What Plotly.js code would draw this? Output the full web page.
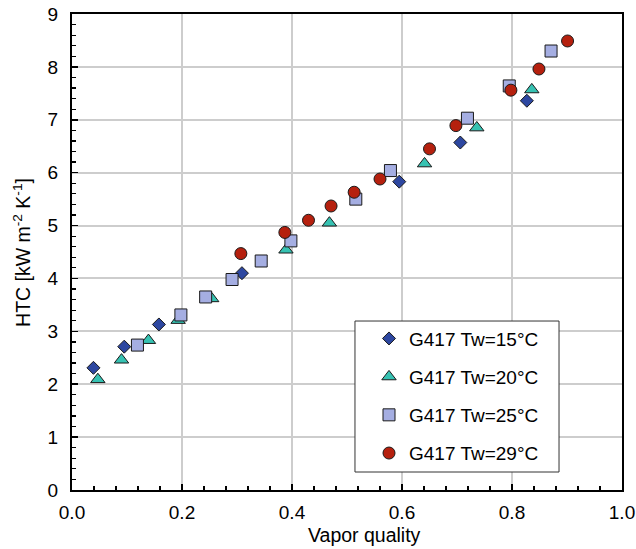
<!DOCTYPE html>
<html>
<head>
<meta charset="utf-8">
<script src="https://cdn.plot.ly/plotly-3.0.1.min.js"></script>
<style>html,body{margin:0;padding:0;background:#fff;}</style>
</head>
<body>
<div id="chart" style="width:636px;height:549px;"></div>
<script>
// Data
var seriesNames = ['G417 Tw=15°C', 'G417 Tw=20°C', 'G417 Tw=25°C', 'G417 Tw=29°C'];

var x15 = [0.039, 0.095, 0.158, 0.309, 0.595, 0.706, 0.827];
var y15 = [2.31, 2.71, 3.13, 4.10, 5.83, 6.57, 7.36];

var x20 = [0.047, 0.090, 0.139, 0.193, 0.254, 0.389, 0.468, 0.641, 0.736, 0.836];
var y20 = [2.09, 2.46, 2.83, 3.21, 3.62, 4.54, 5.05, 6.17, 6.85, 7.57];

var x25 = [0.119, 0.198, 0.243, 0.291, 0.344, 0.398, 0.516, 0.579, 0.719, 0.795, 0.871];
var y25 = [2.74, 3.31, 3.65, 3.98, 4.33, 4.71, 5.50, 6.04, 7.03, 7.64, 8.30];

var x29 = [0.307, 0.387, 0.430, 0.471, 0.513, 0.560, 0.650, 0.698, 0.798, 0.849, 0.901];
var y29 = [4.47, 4.87, 5.10, 5.37, 5.63, 5.88, 6.45, 6.89, 7.56, 7.96, 8.49];

var xTickVals = [0, 0.2, 0.4, 0.6, 0.8, 1.0];
var xTickText = ['0.0', '0.2', '0.4', '0.6', '0.8', '1.0'];
var yTickVals = [0, 1, 2, 3, 4, 5, 6, 7, 8, 9];

var FONT = 'Liberation Sans, Arial, sans-serif';

function mk(x, y, name, symbol, color, size, grp) {
  return {
    type: 'scatter', mode: 'markers', x: x, y: y, name: name,
    legendgroup: grp,
    marker: {symbol: symbol, color: color, size: size, line: {color: '#1a1a1a', width: 1}},
    hoverinfo: 'x+y'
  };
}

var traces = [
  mk(x15, y15, seriesNames[0], 'diamond', '#2d47a0', 10, 'a'),
  mk(x20, y20, seriesNames[1], 'triangle-up', '#36c2b2', 12.5, 'b'),
  mk(x25, y25, seriesNames[2], 'square', '#a5aee2', 12, 'c'),
  mk(x29, y29, seriesNames[3], 'circle', '#b5200e', 12, 'd')
];

var axisCommon = {
  showline: true, linecolor: '#000', linewidth: 2, mirror: true,
  showgrid: true, gridcolor: '#cdcdcd', gridwidth: 2,
  zeroline: false,
  ticks: 'inside', ticklen: 6, tickwidth: 1.5, tickcolor: '#000',
  tickfont: {family: FONT, size: 19, color: '#000'}
};

var layout = {
  width: 636, height: 549,
  margin: {l: 72, r: 14, t: 14, b: 59},
  paper_bgcolor: '#fff', plot_bgcolor: '#fff',
  font: {family: FONT, size: 19, color: '#000'},
  showlegend: true,
  xaxis: Object.assign({}, axisCommon, {
    range: [0, 1], tickvals: xTickVals, ticktext: xTickText,
    ticklabelstandoff: 4,
    minor: {dtick: 0.04, ticks: 'inside', ticklen: 4, tickcolor: '#000', tickwidth: 1.2, showgrid: false}
  }),
  yaxis: Object.assign({}, axisCommon, {
    range: [0, 9], tickvals: yTickVals,
    ticklabelstandoff: 8,
    minor: {dtick: 0.2, ticks: 'inside', ticklen: 4, tickcolor: '#000', tickwidth: 1.2, showgrid: false}
  }),
  legend: {
    x: 0.54, y: 0.358, xanchor: 'left', yanchor: 'top',
    bgcolor: 'rgba(0,0,0,0)', borderwidth: 0,
    font: {family: FONT, size: 19, color: '#000'},
    traceorder: 'grouped', tracegroupgap: 10.5
  },
  shapes: [{
    type: 'rect', xref: 'paper', yref: 'paper',
    x0: 0.5145, x1: 0.8855, y0: 0.0378, y1: 0.355,
    fillcolor: '#fff', line: {color: '#333', width: 1}, layer: 'above'
  }],
  annotations: [
    {text: 'Vapor quality', xref: 'paper', yref: 'paper', x: 0.531, y: -0.094,
     xanchor: 'center', yanchor: 'middle', showarrow: false,
     font: {family: FONT, size: 19.5, color: '#000'}},
    {text: 'HTC [kW m<sup>-2</sup> K<sup>-1</sup>]', xref: 'paper', yref: 'paper',
     x: -0.091, y: 0.5, xanchor: 'center', yanchor: 'middle', textangle: -90, showarrow: false,
     font: {family: FONT, size: 19.5, color: '#000'}}
  ]
};

Plotly.newPlot('chart', traces, layout, {displayModeBar: false, staticPlot: true});
</script>
</body>
</html>
